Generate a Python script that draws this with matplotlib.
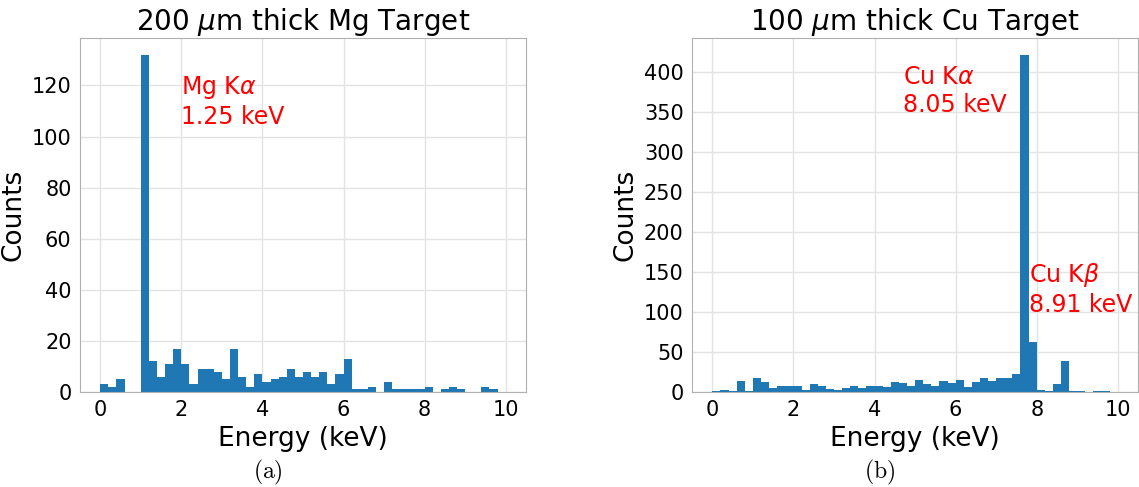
import matplotlib.pyplot as plt
from matplotlib.ticker import MultipleLocator
import numpy as np

# ビン（0.2 keV 幅, 0〜10 keV）
edges = np.arange(0, 10.01, 0.2)
centers = (edges[:-1] + edges[1:]) / 2

# Mg ターゲットのカウント
mg_counts = [3, 2, 5, 0, 0, 132, 12, 6, 11, 17,
             11, 3, 9, 9, 8, 5, 17, 6, 2, 7,
             4, 5, 6, 9, 6, 8, 6, 8, 3, 7,
             13, 1, 1, 2, 0, 4, 1, 1, 1, 1,
             2, 0, 1, 2, 1, 0, 0, 2, 1, 0]

# Cu ターゲットのカウント
cu_counts = [1, 3, 1, 14, 1, 18, 13, 5, 8, 7,
             8, 3, 10, 7, 4, 3, 5, 7, 5, 8,
             7, 6, 13, 11, 7, 15, 10, 7, 14, 11,
             15, 6, 13, 18, 14, 17, 17, 23, 421, 63,
             2, 1, 10, 39, 1, 1, 0, 1, 1, 0]

fig = plt.figure(figsize=(11.39, 4.87), dpi=100)
ax1 = fig.add_axes([0.0702, 0.195, 0.3916, 0.727])
ax2 = fig.add_axes([0.6076, 0.195, 0.3916, 0.727])

for ax, counts, title in [(ax1, mg_counts, r'200 $\mu$m thick Mg Target'),
                          (ax2, cu_counts, r'100 $\mu$m thick Cu Target')]:
    ax.hist(centers, bins=edges, weights=counts, color='#1f77b4')
    ax.set_title(title, fontsize=20)
    ax.set_xlabel('Energy (keV)', fontsize=19)
    ax.set_ylabel('Counts', fontsize=19)
    ax.set_xticks([0, 2, 4, 6, 8, 10])
    ax.tick_params(labelsize=15, length=0, pad=6)
    ax.grid(True, color='#e3e3e3', linewidth=1)
    ax.set_axisbelow(True)
    for s in ax.spines.values():
        s.set_color('#b0b0b0')

ax2.yaxis.set_major_locator(MultipleLocator(50))

# ピークのラベル
ax1.text(2.0, 105, 'Mg K$\\alpha$\n1.25 keV', color='red', fontsize=17)
ax2.text(4.7, 350, 'Cu K$\\alpha$\n8.05 keV', color='red', fontsize=17)
ax2.text(7.8, 100, 'Cu K$\\beta$\n8.91 keV', color='red', fontsize=17)

# サブ図のキャプション
fig.text(0.2353, 0.018, r'$\mathrm{(a)}$', ha='center', fontsize=17, math_fontfamily='cm')
fig.text(0.7726, 0.018, r'$\mathrm{(b)}$', ha='center', fontsize=17, math_fontfamily='cm')

fig.savefig('out.png', dpi=100)
